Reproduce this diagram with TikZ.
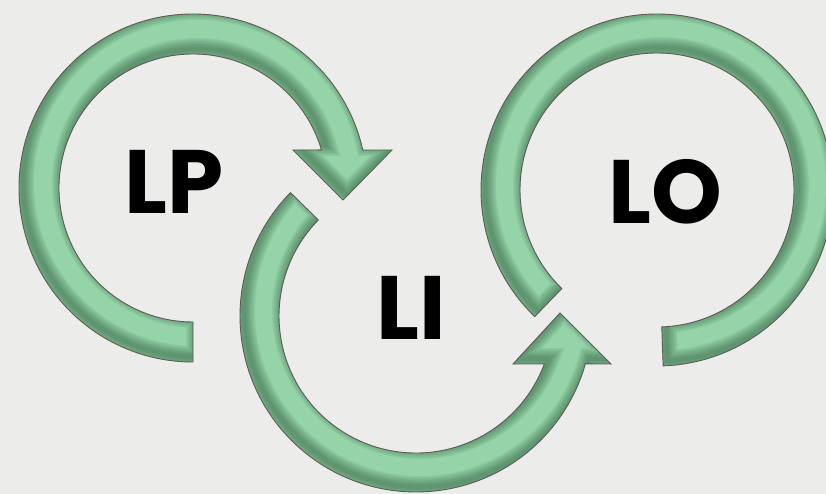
\documentclass[tikz,border=0pt]{standalone}
\usepackage{fontspec}
\setsansfont{Poppins}
\usetikzlibrary{positioning}
\definecolor{paper}{RGB}{236,236,234}
\definecolor{leaf}{RGB}{148,212,168}
\definecolor{leafdk}{RGB}{45,90,60}
\definecolor{rimc}{RGB}{95,90,82}
\tikzset{band/.style={fill=leaf},rim/.style={draw=rimc,line width=0.9,line join=miter},
shad/.style={draw=leafdk,line width=#1,opacity=0.09},
lbl/.style={font=\sffamily\bfseries\fontsize{90}{90}\selectfont,inner sep=0pt}}
% band outlines, local to each ring centre
\newcommand\lpband{(270:174) arc[start angle=270,end angle=12.6,radius=174] -- (199,38) -- (150,-12) -- (100,38) -- (16.5:134) arc[start angle=16.5,end angle=270,radius=134] -- cycle}
\newcommand\liband{(135.5:176) arc[start angle=135.5,end angle=344.2,radius=176] -- (195,-48) -- (144,3) -- (97,-48) -- (339.5:137) arc[start angle=339.5,end angle=135.5,radius=137] -- cycle}
\newcommand\loband{(226:176) arc[start angle=226,end angle=-88,radius=176] -- (-88:137) arc[start angle=-88,end angle=226,radius=137] -- cycle}
\begin{document}
\begin{tikzpicture}[x=1pt,y=1pt]
\useasboundingbox(0,0)rectangle(826,-494);
\fill[paper](0,0)rectangle(826,-494);
\foreach\cx/\cy/\b in{193/-188/\lpband,416/-316/\liband,657/-190/\loband}{
\begin{scope}[shift={(\cx,\cy)}]
\fill[band]\b;
\begin{scope}\clip\b;\foreach\w in{22,19,...,4}\draw[shad=\w,shift={(4,5)}]\b;\end{scope}
\draw[rim]\b;
\end{scope}}
\node[lbl](lp)at(174,-182){LP};\node[lbl](li)at(411,-308){LI};\node[lbl](lo)at(665,-192){LO};
\end{tikzpicture}
\end{document}
